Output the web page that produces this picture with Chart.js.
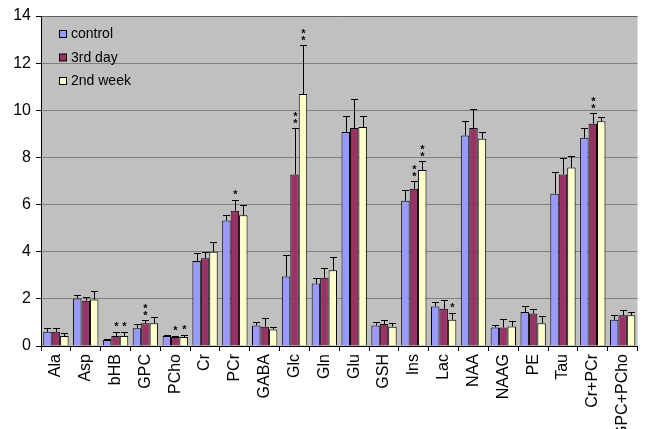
<!DOCTYPE html>
<html>
<head>
<meta charset="utf-8">
<script src="https://cdn.jsdelivr.net/npm/chart.js@4.4.1/dist/chart.umd.min.js"></script>
<style>
  html, body { margin: 0; padding: 0; background: #fff; }
  #wrap { position: relative; width: 645px; height: 429px; }
</style>
</head>
<body>
<div id="wrap"><canvas id="c" width="645" height="429"></canvas></div>
<script>
// Metabolite concentrations (mean and SD) for three time points
const categories = ['Ala','Asp','bHB','GPC','PCho','Cr','PCr','GABA','Glc','Gln','Glu','GSH','Ins','Lac','NAA','NAAG','PE','Tau','Cr+PCr','GPC+PCho'];
const seriesNames = ['control', '3rd day', '2nd week'];

const control    = [0.60, 2.02, 0.25, 0.75, 0.42, 3.61, 5.32, 0.87, 2.95, 2.65, 9.08, 0.87, 6.16, 1.68, 8.93, 0.79, 1.44, 6.46, 8.83, 1.11];
const controlErr = [0.15, 0.15, 0.05, 0.18, 0.04, 0.32, 0.25, 0.16, 0.93, 0.25, 0.68, 0.16, 0.45, 0.19, 0.60, 0.11, 0.27, 0.93, 0.42, 0.20];

const day3    = [0.60, 1.92, 0.42, 0.97, 0.38, 3.72, 5.74, 0.82, 7.28, 2.90, 9.25, 0.93, 6.67, 1.58, 9.25, 0.79, 1.38, 7.28, 9.43, 1.30];
const day3Err = [0.15, 0.18, 0.17, 0.14, 0.04, 0.28, 0.46, 0.38, 1.98, 0.43, 1.25, 0.18, 0.34, 0.39, 0.79, 0.34, 0.17, 0.70, 0.44, 0.21];

const week2    = [0.42, 1.97, 0.42, 0.97, 0.38, 4.00, 5.55, 0.70, 10.69, 3.21, 9.29, 0.82, 7.47, 1.11, 8.79, 0.83, 0.97, 7.57, 9.53, 1.30];
const week2Err = [0.14, 0.37, 0.17, 0.24, 0.08, 0.43, 0.43, 0.12, 2.07, 0.57, 0.47, 0.14, 0.37, 0.29, 0.29, 0.23, 0.31, 0.47, 0.19, 0.14];

// Number of significance stars per bar
const controlStars = [0,0,0,0,0,0,0,0,0,0,0,0,0,0,0,0,0,0,0,0];
const day3Stars    = [0,0,1,2,1,0,1,0,2,0,0,0,2,0,0,0,0,0,2,0];
const week2Stars   = [0,0,1,0,1,0,0,0,2,0,0,0,2,1,0,0,0,0,0,0];

const yTicks = [0, 2, 4, 6, 8, 10, 12, 14];

const colors = ['#9999FF', '#993366', '#FFFFCC'];
const errs  = [controlErr, day3Err, week2Err];
const stars = [controlStars, day3Stars, week2Stars];

const FONT = '"Liberation Sans", Arial, sans-serif';
const NARROW = '"Liberation Sans Narrow", "Arial Narrow", "Liberation Sans", sans-serif';

const plotBackground = {
  id: 'plotBackground',
  beforeDraw(chart) {
    const { ctx, chartArea: a } = chart;
    ctx.save();
    ctx.fillStyle = '#C0C0C0';
    ctx.fillRect(a.left, a.top, a.right - a.left, a.bottom - a.top);
    ctx.restore();
  }
};

const errorBars = {
  id: 'errorBars',
  afterDatasetsDraw(chart) {
    const { ctx } = chart;
    const y = chart.scales.y;
    ctx.save();
    chart.data.datasets.forEach((ds, di) => {
      const meta = chart.getDatasetMeta(di);
      meta.data.forEach((bar, i) => {
        const v = ds.data[i];
        const top = y.getPixelForValue(v + errs[di][i]);
        const x = Math.round(bar.x) + 0.5;
        ctx.strokeStyle = '#000';
        ctx.lineWidth = 1;
        ctx.beginPath();
        ctx.moveTo(x, bar.y);
        ctx.lineTo(x, Math.round(top) + 0.5);
        ctx.moveTo(x - 3.5, Math.round(top) + 0.5);
        ctx.lineTo(x + 3.5, Math.round(top) + 0.5);
        ctx.stroke();
        const n = stars[di][i];
        ctx.fillStyle = '#000';
        ctx.font = 'bold 11px ' + FONT;
        ctx.textAlign = 'center';
        ctx.textBaseline = 'alphabetic';
        for (let k = 0; k < n; k++) {
          const cy = top - (n === 1 ? 9 : 8 + 7 * k);
          ctx.fillText('*', x, cy + 7);
        }
      });
    });
    ctx.restore();
  }
};

const innerLegend = {
  id: 'innerLegend',
  afterDraw(chart) {
    const { ctx } = chart;
    ctx.save();
    ctx.font = '14px ' + FONT;
    ctx.textBaseline = 'middle';
    ctx.textAlign = 'left';
    seriesNames.forEach((name, i) => {
      const cy = 34 + i * 23.5;
      ctx.fillStyle = colors[i];
      ctx.fillRect(59.5, cy - 3.5, 7, 7);
      ctx.strokeStyle = '#000';
      ctx.lineWidth = 1;
      ctx.strokeRect(59.5, cy - 3.5, 7, 7);
      ctx.fillStyle = '#000';
      ctx.fillText(name, 71, cy + 0.5);
    });
    ctx.restore();
  }
};

new Chart(document.getElementById('c'), {
  type: 'bar',
  data: {
    labels: categories,
    datasets: [control, day3, week2].map((d, i) => ({
      label: seriesNames[i],
      data: d,
      backgroundColor: colors[i],
      borderColor: '#000',
      borderWidth: 1,
      borderSkipped: 'bottom',
      categoryPercentage: 0.85,
      barPercentage: 1.0
    }))
  },
  options: {
    responsive: false,
    animation: false,
    layout: { padding: { top: 16, right: 7, left: 0, bottom: 0 } },
    plugins: {
      legend: { display: false },
      tooltip: { enabled: false }
    },
    scales: {
      x: {
        afterFit(s) { s.height = 83; },
        grid: {
          offset: true,
          drawOnChartArea: false,
          drawTicks: true,
          tickLength: 5,
          tickColor: '#000'
        },
        border: { color: '#000', width: 1 },
        ticks: {
          minRotation: 90,
          maxRotation: 90,
          autoSkip: false,
          padding: 3,
          color: '#000',
          font: { family: NARROW, size: 16 }
        }
      },
      y: {
        min: 0,
        max: 14,
        afterFit(s) { s.width = 41; },
        afterBuildTicks(s) { s.ticks = yTicks.map(v => ({ value: v })); },
        grid: {
          color: ctx => (ctx.tick && ctx.tick.value === 14) ? '#606060' : '#808080',
          tickColor: '#000',
          tickLength: 5,
          drawTicks: true
        },
        border: { color: '#000', width: 1 },
        ticks: {
          padding: 5,
          color: '#000',
          font: { family: NARROW, size: 16 }
        }
      }
    }
  },
  plugins: [plotBackground, errorBars, innerLegend]
});
</script>
</body>
</html>
